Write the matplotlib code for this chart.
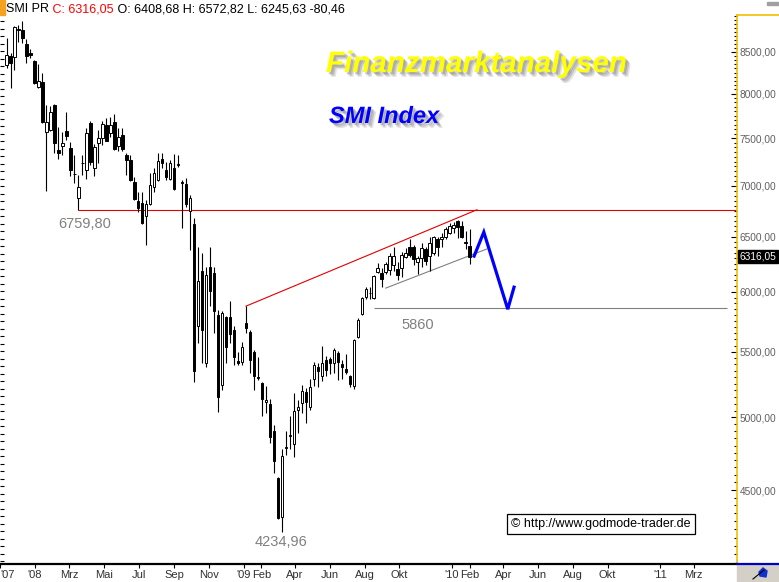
import matplotlib
matplotlib.use("Agg")
import matplotlib.pyplot as plt
import matplotlib.dates as mdates
import matplotlib.patheffects as pe
from matplotlib.patches import Rectangle, Polygon
from matplotlib.lines import Line2D
from matplotlib.ticker import FixedLocator, NullFormatter, FuncFormatter
import numpy as np
import pandas as pd

# weekly SMI candles, Nov 2007 - Feb 2010
dates = pd.date_range("2007-11-12", periods=117, freq="7D")

opens = [8341, 8451, 8439, 8789, 8776, 8599, 8482, 8390, 8079, 8138,
         7567, 7589, 7870, 7372, 7415, 7578, 7394, 7120, 6876, 7235,
         7161, 7667, 7182, 7448, 7502, 7645, 7556, 7678, 7415, 7534,
         7319, 7266, 7038, 6845, 6826, 6699, 6816, 6987, 7058, 7277,
         7161, 7068, 7182, 7219, 7038, 7017, 6747, 6621, 5708, 6183,
         5410, 6220, 6165, 5800, 5240, 5784, 5784, 5675, 5426, 5418,
         5733, 5659, 5497, 5301, 5255, 5112, 5097, 4901, 4577, 4325,
         4786, 4870, 4810, 5053, 5105, 5187, 5075, 5286, 5379, 5309,
         5433, 5441, 5410, 5489, 5402, 5363, 5309, 5233, 5618, 5809,
         5954, 5994, 5945, 6174, 6165, 6174, 6192, 6238, 6202, 6211,
         6311, 6403, 6403, 6265, 6302, 6385, 6320, 6348, 6478, 6478,
         6497, 6535, 6582, 6650, 6602, 6450, 6408.68]

closes = [8463, 8365, 8814, 8776, 8675, 8451, 8469, 8126, 8150, 7678,
          7678, 7790, 7448, 7340, 7448, 7523, 7161, 7115, 6987, 7230,
          7556, 7245, 7405, 7502, 7656, 7469, 7645, 7383, 7513, 7383,
          7266, 7058, 6866, 6777, 6630, 6816, 7007, 7130, 7256, 7235,
          7089, 7235, 6966, 7214, 7023, 6816, 6876, 5347, 6094, 5675,
          6148, 6006, 5834, 5150, 5817, 5537, 5643, 5457, 5410, 5537,
          5692, 5433, 5309, 5297, 5135, 5127, 4859, 4692, 4318, 4726,
          4789, 4873, 5046, 5075, 5195, 5112, 5225, 5394, 5347, 5410,
          5355, 5410, 5513, 5418, 5379, 5340, 5248, 5594, 5758, 5945,
          6024, 5989, 6139, 6211, 6112, 6247, 6320, 6320, 6148, 6329,
          6348, 6329, 6293, 6302, 6394, 6274, 6440, 6497, 6403, 6497,
          6573, 6602, 6611, 6592, 6497, 6440, 6316.05]

highs = [8675, 8488, 8827, 8840, 8891, 8662, 8537, 8402, 8353, 8245,
         7870, 7858, 7881, 7622, 7567, 7790, 7459, 7319, 7110, 7319,
         7611, 7689, 7437, 7589, 7689, 7723, 7734, 7768, 7611, 7611,
         7340, 7319, 7089, 6936, 6936, 6855, 7130, 7182, 7340, 7340,
         7245, 7266, 7330, 7319, 7058, 7079, 6906, 6679, 6403, 6348,
         6220, 6403, 6220, 5843, 5834, 5792, 5919, 5708, 5497, 5578,
         5877, 5675, 5513, 5457, 5263, 5233, 5135, 4945, 4584, 4775,
         4901, 5009, 5180, 5127, 5240, 5218, 5286, 5418, 5410, 5545,
         5465, 5457, 5529, 5505, 5433, 5481, 5317, 5602, 5775, 5954,
         6041, 6041, 6148, 6256, 6211, 6265, 6348, 6403, 6265, 6357,
         6394, 6478, 6422, 6320, 6440, 6403, 6497, 6506, 6497, 6535,
         6592, 6630, 6640, 6659, 6650, 6554, 6572.82]

lows = [8305, 8067, 8281, 8624, 8612, 8365, 8426, 8114, 8067, 7672,
        6946, 7578, 7340, 7277, 7319, 7480, 7099, 7028, 6759.80, 7110,
        7068, 7214, 7099, 7235, 7426, 7465, 7513, 7372, 7362, 7362,
        7110, 7048, 6855, 6738, 6625, 6422, 6810, 6936, 7052, 7182,
        7058, 7058, 6956, 7193, 6582, 6787, 6375, 5263, 5570, 5410,
        5379, 5877, 5651, 5039, 5202, 5410, 5570, 5394, 5394, 5394,
        5651, 5332, 5202, 5278, 5009, 5031, 4817, 4610, 4312, 4234.96,
        4733, 4775, 4719, 4887, 5031, 4959, 5053, 5233, 5225, 5270,
        5309, 5324, 5332, 5278, 5286, 5324, 5225, 5210, 5610, 5800,
        5937, 5937, 5937, 6165, 6041, 6157, 6148, 6183, 6103, 6130,
        6302, 6311, 6238, 6157, 6220, 6238, 6183, 6329, 6320, 6403,
        6478, 6525, 6535, 6487, 6490, 6385, 6245.63]

# drawn analysis lines
support_level = 6759.80
support_start = "2008-03-17"
trend_up = (["2009-01-05", "2010-02-14"], [5877, 6759.80])
trend_low = (["2009-09-07", "2010-03-03"], [6033, 6385])
target_level = 5860
target_span = ["2009-08-17", "2011-04-28"]
arrow_dates = ["2010-02-09", "2010-02-26", "2010-04-09", "2010-04-20"]
arrow_vals = [6320, 6544, 5851, 6041]

x_tick_dates = ["2007-11-01", "2008-01-01", "2008-03-01", "2008-05-01", "2008-07-01",
                "2008-09-01", "2008-11-01", "2009-01-01", "2009-02-01", "2009-04-01",
                "2009-06-01", "2009-08-01", "2009-10-01", "2010-01-01", "2010-02-01",
                "2010-04-01", "2010-06-01", "2010-08-01", "2010-10-01", "2011-01-01",
                "2011-03-01"]
x_tick_labels = ["'07", "'08", "Mrz", "Mai", "Jul", "Sep", "Nov", "'09", "Feb", "Apr",
                 "Jun", "Aug", "Okt", "'10", "Feb", "Apr", "Jun", "Aug", "Okt", "'11", "Mrz"]
y_major = [4500, 5000, 5500, 6000, 6500, 7000, 7500, 8000, 8500]

plt.rcParams['font.family'] = ['Liberation Sans', 'DejaVu Sans']

W, H = 779, 582
fig = plt.figure(figsize=(W / 100, H / 100), dpi=100)
ax = fig.add_axes([0, 18 / H, 737 / W, 549 / H])

# evenly spaced marks on the left edge (twin made first, it resets the main y axis side)
ax2 = ax.twinx()
ax2.set_ylim(0, 549)
ax2.yaxis.tick_left()
ax2.yaxis.set_major_locator(FixedLocator(np.arange(3, 549, 7.5)))
ax2.tick_params(axis='y', direction='in', length=3, width=0.8, left=True, right=False,
                labelleft=False, labelright=False)
for s in ax2.spines.values():
    s.set_visible(False)

d2n = lambda d: mdates.date2num(pd.to_datetime(d))
xs = mdates.date2num(dates)
o = np.array(opens); c = np.array(closes)
hi = np.array(highs); lo = np.array(lows)

ax.set_yscale('log')
ax.set_ylim(4041.6, 8969)
ax.set_xlim(d2n("2007-10-31 14:00"), d2n("2011-05-16"))

# candles
ax.vlines(xs, lo, hi, color='black', lw=0.8, zorder=2)
up = c >= o
bottoms = np.minimum(o, c)
heights = np.maximum(np.abs(c - o), 1.0)
ax.bar(xs, heights, bottom=bottoms, width=4.4,
       color=['white' if u else 'black' for u in up],
       edgecolor='black', linewidth=0.7, zorder=3)

# lines
ax.hlines(support_level, d2n(support_start), ax.get_xlim()[1], color='#E00000', lw=0.8, zorder=1)
ax.plot(d2n(trend_up[0]), trend_up[1], color='#E00000', lw=0.8, zorder=1)
ax.plot(d2n(trend_low[0]), trend_low[1], color='#808080', lw=0.8, zorder=1)
ax.hlines(target_level, d2n(target_span[0]), d2n(target_span[1]), color='#808080', lw=0.8, zorder=1)
ax.plot(d2n(arrow_dates), arrow_vals, color='#0000FF', lw=2.3, zorder=4, solid_joinstyle='miter')

# level labels
ax.text(d2n("2008-03-28"), 6625, "6759,80", color='#808080', fontsize=10.5, ha='center', va='center')
ax.text(d2n("2009-11-02"), 5716, "5860", color='#808080', fontsize=10.5, ha='center', va='center')
ax.text(d2n("2009-03-08"), 4173, "4234,96", color='#808080', fontsize=10.5, ha='center', va='center')

# y axis on right
ax.yaxis.tick_right()
ax.yaxis.set_major_locator(FixedLocator(y_major))
ax.yaxis.set_major_formatter(FuncFormatter(lambda v, p: f"{v:.2f}".replace('.', ',')))
ax.yaxis.set_minor_locator(FixedLocator([v for v in range(4050, 8951, 50) if v not in y_major]))
ax.yaxis.set_minor_formatter(NullFormatter())
ax.tick_params(axis='y', which='major', direction='in', length=4, width=0.8,
               labelsize=7.3, labelcolor='#606060', pad=2, left=False, right=True,
               labelleft=False, labelright=True)
ax.tick_params(axis='y', which='minor', direction='in', length=2, width=0.8,
               left=False, right=True)

# x axis
ax.xaxis.set_major_locator(FixedLocator(d2n(x_tick_dates)))
ax.set_xticklabels(x_tick_labels)
ax.tick_params(axis='x', direction='out', length=3, width=0.8, labelsize=8,
               labelcolor='#303030', pad=1)
ax.get_xticklabels()[0].set_ha('left')

for s in ['top', 'left']:
    ax.spines[s].set_visible(False)
ax.spines['right'].set_color('#F0C000')
ax.spines['right'].set_linewidth(1.2)
ax.spines['bottom'].set_color('black')
ax.spines['bottom'].set_linewidth(1.6)

# last price box
ax.text(1.004, closes[-1], "6316,05", transform=ax.get_yaxis_transform(),
        ha='left', va='center', fontsize=7.3, color='white', clip_on=False, zorder=10,
        bbox=dict(boxstyle='square,pad=0.15', fc='black', ec='black'))

# header line
fig.patches.append(Rectangle((0, 1 - 15 / H), 5 / W, 15 / H, transform=fig.transFigure,
                             color='#F5A21E'))
t1 = fig.text(6 / W, 1 - 12 / H, "SMI PR", fontsize=9, color='black', va='baseline')
t2 = ax.annotate(" C: 6316,05", xy=(1, 0), xycoords=t1, va='bottom', ha='left',
                 fontsize=9, color='#FF0000', annotation_clip=False)
ax.annotate(" O: 6408,68 H: 6572,82 L: 6245,63 -80,46", xy=(1, 0), xycoords=t2,
            va='bottom', ha='left', fontsize=9, color='black', annotation_clip=False)

# titles with shadow
shadow = [pe.SimplePatchShadow(offset=(1.5, -1.5), shadow_rgbFace='#707070', alpha=0.35),
          pe.SimplePatchShadow(offset=(2.5, -2.5), shadow_rgbFace='#707070', alpha=0.3),
          pe.SimplePatchShadow(offset=(3.5, -3.5), shadow_rgbFace='#909090', alpha=0.25),
          pe.Normal()]
fig.text(326 / W, 1 - 72 / H, "Finanzmarktanalysen", fontsize=21.3, fontweight='bold',
         fontstyle='italic', color='#FFFF00', va='baseline', path_effects=shadow)
fig.text(329 / W, 1 - 123 / H, "SMI Index", fontsize=17, fontweight='bold',
         fontstyle='italic', color='#0000FF', va='baseline', path_effects=shadow)

# copyright box
fig.text(511 / W, 1 - 524 / H, "\u00a9 http://www.godmode-trader.de", fontsize=9,
         va='center', ha='left', color='black',
         bbox=dict(boxstyle='square,pad=0.35', fc='white', ec='black', lw=0.9))

# right panel decorations
fig.add_artist(Line2D([737 / W, 1], [1 - 15 / H, 1 - 15 / H], color='#F0C000', lw=1.2))
fig.patches.append(Rectangle((737 / W, 0), 42 / W, 18 / H, transform=fig.transFigure,
                             color='#D4D0C8', zorder=0))
fig.add_artist(Line2D([737 / W, 1], [18 / H, 18 / H], color='#0000C0', lw=1.6))
fig.add_artist(Line2D([753 / W, 764 / W], [3 / H, 12 / H], color='black', lw=0.8))
fig.patches.append(Polygon([[760 / W, 6 / H], [766 / W, 5 / H], [767 / W, 11 / H],
                            [763 / W, 14 / H], [759 / W, 10 / H]],
                           closed=True, transform=fig.transFigure, color='#1030D0'))
fig.patches.append(Rectangle((767 / W, 1 - 5 / H), 11 / W, 3 / H, transform=fig.transFigure,
                             color='#A0A0A0'))

fig.savefig("out.png", dpi=100)
